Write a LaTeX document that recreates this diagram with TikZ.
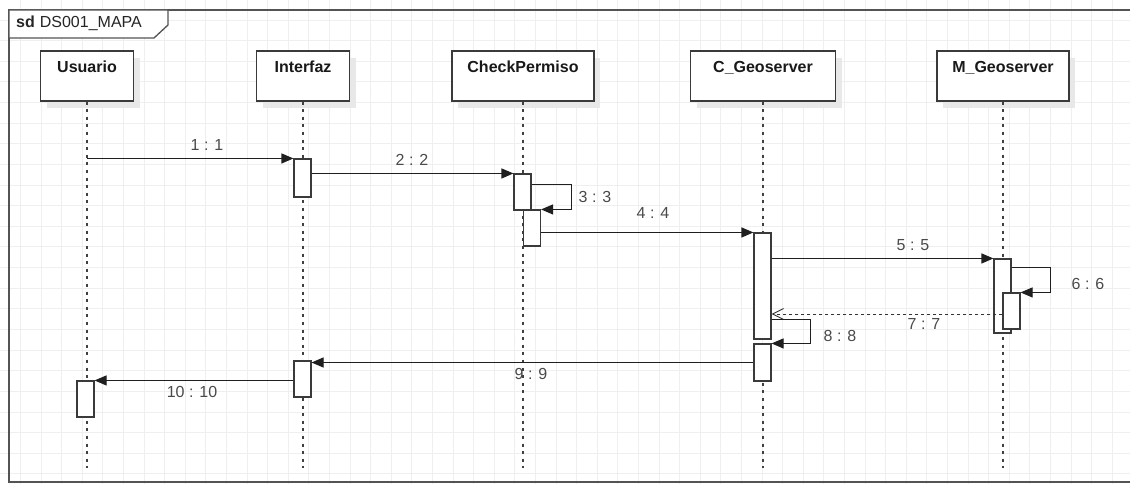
\documentclass[tikz,border=0pt]{standalone}
\usepackage{fontspec}
\setmainfont{Liberation Sans}
\usetikzlibrary{arrows.meta,calc,shadows}
\definecolor{gridc}{HTML}{EFEFEF}
\definecolor{linec}{HTML}{3A3A3A}
\definecolor{lblc}{HTML}{4A4A4A}
\definecolor{lifec}{HTML}{404040}
\begin{document}
\begin{tikzpicture}[x=1pt,y=-1pt,
  gridline/.style={draw=gridc, line width=0.9pt},
  framestyle/.style={draw=lifec!90, line width=1.3pt},
  hdr/.style={draw=linec, line width=1.1pt, fill=white, minimum height=50pt, inner sep=0pt,
    drop shadow={shadow xshift=6pt, shadow yshift=-7pt, fill=black!9, opacity=1}},
  hdrtxt/.style={font=\fontsize{16}{19}\selectfont\bfseries, text=black!90, inner sep=0pt, anchor=base},
  act/.style={draw=linec, line width=1.1pt, fill=white, minimum width=17pt, inner sep=0pt},
  lifeline/.style={draw=lifec, line width=2pt, dash pattern=on 3pt off 4.6pt},
  msg/.style={draw=black!88, line width=1.1pt, -{Triangle[length=12pt,width=10pt]}},
  ret/.style={draw=black!80, line width=1pt, dash pattern=on 3pt off 3pt, -{Straight Barb[length=11pt,width=11pt,line width=0.9pt]}},
  lbl/.style={text=lblc, font=\fontsize{16}{19}\selectfont, inner sep=0pt}
]
\useasboundingbox (0,0) rectangle (1130,484);
\clip (0,0) rectangle (1130,484);
\fill[white] (0,0) rectangle (1130,484);
% grid
\foreach \i in {0,...,54} {\draw[gridline] ({20.5+20.6*\i},0) -- ++(0,484);}
\foreach \j in {0,...,23} {\draw[gridline] (0,{20+20.63*\j}) -- ++(1130,0);}
% frame
\draw[framestyle] (1140,10) -- (9,10) -- (9,482) -- (1140,482);
\draw[framestyle, fill=white] (9,10) -- (168,10) -- (168,25) -- (154,38) -- (9,38) -- cycle;
\node[anchor=base west, inner sep=0pt, font=\fontsize{16}{19}\selectfont, text=black!85] (title) at (16,28) {\textbf{sd}\hspace{5pt}DS001\_MAPA};
% headers
\node[hdr, minimum width=93pt] (u) at (87,76) {};
\node[hdr, minimum width=93pt] (i) at (303,76) {};
\node[hdr, minimum width=142pt] (c) at (523,76) {};
\node[hdr, minimum width=145pt] (g) at (763,76) {};
\node[hdr, minimum width=132pt] (m) at (1003,76) {};
\node[hdrtxt] (tu) at ($(u.north)+(0,22)$) {Usuario};
\node[hdrtxt] (ti) at ($(i.north)+(0,22)$) {Interfaz};
\node[hdrtxt] (tc) at ($(c.north)+(0,22)$) {CheckPermiso};
\node[hdrtxt] (tg) at ($(g.north)+(0,22)$) {C\_Geoserver};
\node[hdrtxt] (tm) at ($(m.north)+(0,22)$) {M\_Geoserver};
% lifelines
\coordinate (bot) at (0,468);
\draw[lifeline] (u.south) -- (u.south |- bot);
\draw[lifeline] (i.south) -- (i.south |- bot);
\draw[lifeline] (c.south) -- (c.south |- bot);
\draw[lifeline] (g.south) -- (g.south |- bot);
\draw[lifeline] (m.south) -- (m.south |- bot);
% activations
\node[act, minimum height=36pt] (aU) at (85.5,399) {};
\node[act, minimum height=38pt] (aI1) at (302.5,178) {};
\node[act, minimum height=36pt] (aI2) at (302.5,379) {};
\node[act, minimum height=36pt] (aC1) at (522.5,192) {};
\node[act, minimum height=36pt] (aC2) at (532,228) {};
\node[act, minimum height=106pt] (aG1) at (762.5,286) {};
\node[act, minimum height=37pt] (aG2) at (762.5,362.5) {};
\node[act, minimum height=74pt] (aM1) at (1002.5,296) {};
\node[act, minimum height=36pt] (aM2) at (1011.5,311) {};
% messages
\draw[msg] (u.south |- aI1.north) -- (aI1.north west);
\node[lbl] (l1) at (207,145) {1 : 1};
\draw[msg] (aC1.north -| aI1.east) -- (aC1.north west);
\node[lbl] (l2) at (412,160) {2 : 2};
\draw[msg] ($(aC1.north east)+(0,11)$) -- ++(40,0) |- (aC2.north east);
\node[lbl] (l3) at (595,197) {3 : 3};
\draw[msg] (aG1.north -| aC2.east) -- (aG1.north west);
\node[lbl] (l4) at (653,213) {4 : 4};
\draw[msg] (aM1.north -| aG1.east) -- (aM1.north west);
\node[lbl] (l5) at (913,245) {5 : 5};
\draw[msg] ($(aM1.north east)+(0,9)$) -- ++(39,0) |- (aM2.north east);
\node[lbl] (l6) at (1088,284) {6 : 6};
\coordinate (c7) at ($(aM2.west)+(0,3)$);
\draw[ret] (c7) -- (c7 -| aG1.east);
\node[lbl] (l7) at (924,324) {7 : 7};
\draw[msg] ($(aG1.south east)+(0,-20)$) -- ++(39,0) |- (aG2.north east);
\node[lbl] (l8) at (840,336) {8 : 8};
\draw[msg] (aG2.west) -- (aG2.west -| aI2.east);
\node[lbl] (l9) at (531,374) {9 : 9};
\draw[msg] (aI2.west |- aU.north) -- (aU.north east);
\node[lbl] (l10) at (192,392) {10 : 10};
\end{tikzpicture}
\end{document}
